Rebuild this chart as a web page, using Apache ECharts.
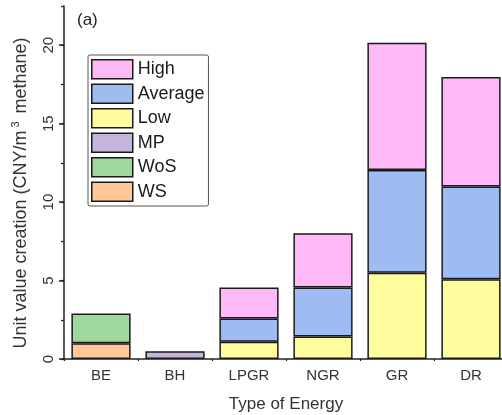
<!DOCTYPE html>
<html>
<head>
<meta charset="utf-8">
<script src="https://cdn.jsdelivr.net/npm/echarts@6/dist/echarts.min.js"></script>
<style>html,body{margin:0;padding:0;background:#fff;}#c{width:502px;height:415px;}</style>
</head>
<body>
<div id="c"></div>
<script>
// ---- data ----
var categories = ['BE', 'BH', 'LPGR', 'NGR', 'GR', 'DR'];
var wsValues   = [1.0, '-', '-', '-', '-', '-'];
var wosValues  = [1.9, '-', '-', '-', '-', '-'];
var mpValues   = ['-', 0.5, '-', '-', '-', '-'];
var lowValues  = ['-', '-', 1.1, 1.44, 5.5, 5.08];
var avgValues  = ['-', '-', 1.48, 3.11, 6.55, 5.91];
var highValues = ['-', '-', 1.97, 3.47, 8.11, 6.99];
var yMajorTicks = [0, 5, 10, 15, 20];
var legendOrder = ['High', 'Average', 'Low', 'MP', 'WoS', 'WS'];

var colors = {
  WS: '#FFC896', WoS: '#9ED89C', MP: '#C5B5DD',
  Low: '#FFFC9E', Average: '#9DBCF2', High: '#FFB9F9'
};
var FONT = 'Liberation Sans, Arial, sans-serif';

function mk(name, data) {
  return {
    name: name, type: 'bar', stack: 'total', data: data, barWidth: '80%',
    itemStyle: { color: colors[name], borderColor: '#1a1a1a', borderWidth: 1.5 },
    emphasis: { disabled: true }
  };
}

var chart = echarts.init(document.getElementById('c'), null, { renderer: 'canvas' });
chart.setOption({
  animation: false,
  backgroundColor: '#fff',
  textStyle: { fontFamily: FONT },
  grid: { left: 64, top: 6, width: 444, height: 353, containLabel: false, outerBoundsMode: 'none' },
  legend: {
    orient: 'vertical', left: 88, top: 55,
    data: legendOrder,
    itemWidth: 41, itemHeight: 19, itemGap: 4,
    padding: [4, 4, 4, 3],
    borderColor: '#555', borderWidth: 1, borderRadius: 2,
    icon: 'rect',
    itemStyle: { borderColor: '#1a1a1a', borderWidth: 1.5 },
    textStyle: { fontSize: 18, color: '#1a1a1a', fontFamily: FONT }
  },
  xAxis: [{
    type: 'category', data: categories,
    axisLine: { lineStyle: { color: '#222', width: 1.5 } },
    axisTick: { alignWithLabel: true, length: 4, lineStyle: { color: '#222', width: 1.5 } },
    axisLabel: { fontSize: 15, color: '#333', margin: 9, fontFamily: FONT },
    name: 'Type of Energy', nameLocation: 'middle', nameGap: 37,
    nameTextStyle: { fontSize: 17, color: '#333', fontFamily: FONT }
  }, {
    type: 'value', min: 0, max: 6, interval: 1, position: 'bottom',
    axisLine: { show: false },
    axisTick: { show: true, length: 2, lineStyle: { color: '#222', width: 1.2 } },
    axisLabel: { show: false }, splitLine: { show: false }
  }],
  yAxis: [{
    type: 'value', min: 0, max: 22.5, interval: 5,
    axisLine: { show: true, lineStyle: { color: '#222', width: 1.5 } },
    axisTick: { show: true, length: 5, lineStyle: { color: '#222', width: 1.5 }, customValues: yMajorTicks },
    axisLabel: { rotate: 90, fontSize: 15, color: '#333', margin: 8, customValues: yMajorTicks, fontFamily: FONT },
    splitLine: { show: false }
  }, {
    type: 'value', min: 0, max: 22.5, interval: 2.5, position: 'left', offset: 0,
    axisLine: { show: false },
    axisTick: { show: true, length: 3, lineStyle: { color: '#222', width: 1.2 } },
    axisLabel: { show: false }, splitLine: { show: false }
  }],
  graphic: [{
    type: 'text', left: 77, top: 12,
    style: { text: '(a)', font: '17px ' + FONT, fill: '#222' }
  }, {
    type: 'text', x: 21, y: 193, rotation: Math.PI / 2,
    style: {
      text: '{a|Unit value creation (CNY/m}{s|3}{a| methane)}',
      align: 'center', verticalAlign: 'middle',
      rich: {
        a: { fontSize: 18, fontFamily: FONT, fill: '#333', color: '#333', lineHeight: 21 },
        s: { fontSize: 11, fontFamily: FONT, fill: '#333', color: '#333', verticalAlign: 'top', padding: [0, 3, 0, 3], lineHeight: 21 }
      }
    }
  }],
  series: [
    mk('WS', wsValues), mk('WoS', wosValues), mk('MP', mpValues),
    mk('Low', lowValues), mk('Average', avgValues), mk('High', highValues)
  ]
});
</script>
</body>
</html>
